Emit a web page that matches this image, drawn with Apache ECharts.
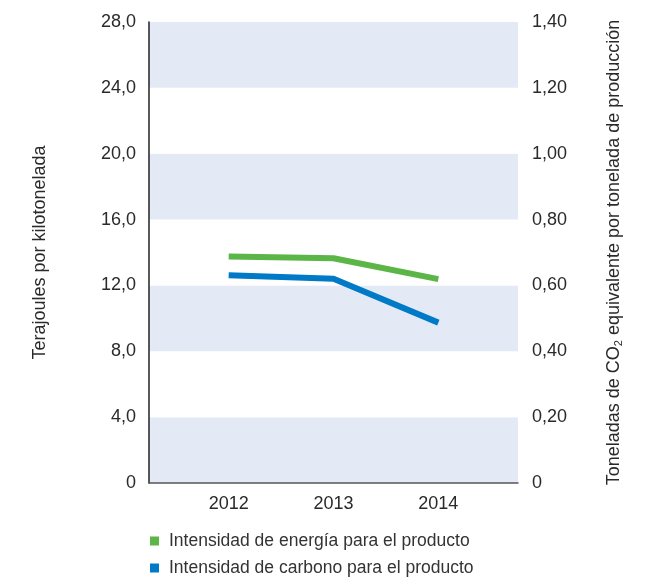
<!DOCTYPE html>
<html>
<head>
<meta charset="utf-8">
<script src="https://cdn.jsdelivr.net/npm/echarts@6/dist/echarts.min.js"></script>
<style>
  html, body { margin: 0; padding: 0; background: #fff; }
  #chart { width: 653px; height: 578px; }
</style>
</head>
<body>
<div id="chart"></div>
<script>
// Years on the horizontal axis
const years = [2012, 2013, 2014];
// Energy intensity (TJ per kilotonne), left axis
const energyIntensity = [13.75, 13.65, 12.38];
// Carbon intensity (t CO2e per tonne), right axis
const carbonIntensity = [0.631, 0.62, 0.487];
// Axis ranges
const leftTicks = { min: 0, max: 28, interval: 4 };
const rightTicks = { min: 0, max: 1.4, interval: 0.2 };
// Series names
const seriesNames = ['Intensidad de energía para el producto', 'Intensidad de carbono para el producto'];

const FONT = 'Liberation Sans';
const TEXT = '#2a2a2a';
const GREEN = '#5cb647';
const BLUE = '#0079c6';

const chart = echarts.init(document.getElementById('chart'), null, { renderer: 'canvas' });

// One legend block per entry, stacked under the plot
const legendBlock = (name, top) => ({
  orient: 'horizontal',
  left: 150,
  top: top,
  padding: 0,
  itemWidth: 9,
  itemHeight: 9,
  icon: 'rect',
  textStyle: { fontFamily: FONT, fontSize: 17.5, color: '#333', padding: [0, 0, 0, 5] },
  data: [name]
});

chart.setOption({
  animation: false,
  textStyle: { fontFamily: FONT },
  grid: { left: 149, right: 135, top: 22, bottom: 95, containLabel: false },
  legend: [
    legendBlock(seriesNames[0], 532),
    legendBlock(seriesNames[1], 559)
  ],
  xAxis: {
    type: 'value',
    min: years[0] - 0.76,
    max: years[years.length - 1] + 0.76,
    axisLine: { show: true, lineStyle: { color: '#555', width: 1.5 } },
    axisTick: { show: false },
    splitLine: { show: false },
    axisLabel: {
      customValues: years,
      formatter: v => String(v),
      fontFamily: FONT, fontSize: 18, color: TEXT, margin: 12
    }
  },
  yAxis: [
    {
      type: 'value',
      position: 'left',
      min: leftTicks.min, max: leftTicks.max, interval: leftTicks.interval,
      name: 'Terajoules por kilotonelada',
      nameLocation: 'middle',
      nameGap: 100,
      nameTextStyle: { fontFamily: FONT, fontSize: 18, color: TEXT },
      axisLine: { show: true, lineStyle: { color: '#222', width: 1.5 } },
      axisTick: { show: false },
      splitLine: { show: false },
      splitArea: { show: true, areaStyle: { color: ['#e3eaf6', '#ffffff'] } },
      axisLabel: {
        fontFamily: FONT, fontSize: 18, color: TEXT, margin: 13,
        formatter: v => v === 0 ? '0' : v.toFixed(1).replace('.', ',')
      }
    },
    {
      type: 'value',
      position: 'right',
      min: rightTicks.min, max: rightTicks.max, interval: rightTicks.interval,
      name: 'Toneladas de CO{sub|2} equivalente por tonelada de producción',
      nameLocation: 'middle',
      nameGap: 86,
      nameTextStyle: {
        fontFamily: FONT, fontSize: 18, color: TEXT,
        rich: { sub: { fontFamily: FONT, fontSize: 11, color: TEXT, verticalAlign: 'bottom', padding: [9, 0, 0, 0] } }
      },
      axisLine: { show: false },
      axisTick: { show: false },
      splitLine: { show: false },
      axisLabel: {
        fontFamily: FONT, fontSize: 18, color: TEXT, margin: 14,
        formatter: v => v === 0 ? '0' : v.toFixed(2).replace('.', ',')
      }
    }
  ],
  series: [
    {
      name: seriesNames[0],
      type: 'line',
      yAxisIndex: 0,
      symbol: 'none',
      color: GREEN,
      lineStyle: { width: 6, color: GREEN, cap: 'butt' },
      data: years.map((y, i) => [y, energyIntensity[i]])
    },
    {
      name: seriesNames[1],
      type: 'line',
      yAxisIndex: 1,
      symbol: 'none',
      color: BLUE,
      lineStyle: { width: 6, color: BLUE, cap: 'butt' },
      data: years.map((y, i) => [y, carbonIntensity[i]])
    }
  ]
});
</script>
</body>
</html>
